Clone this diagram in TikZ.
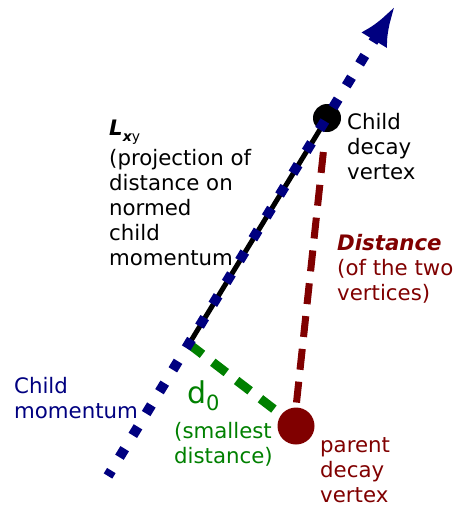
\documentclass[tikz,border=0pt]{standalone}
\usepackage{fontspec}
\setmainfont{DejaVu Sans}
\usetikzlibrary{arrows.meta,positioning}

\definecolor{momblue}{HTML}{000080}
\definecolor{distred}{HTML}{800000}
\definecolor{dzgreen}{HTML}{008000}

\begin{document}
\begin{tikzpicture}[
    x=1pt, y=-1pt,
    vertex/.style={circle, inner sep=0pt},
    label/.style={anchor=base west, align=left, inner sep=0pt, font=\fontsize{21.3}{25}\selectfont},
    momentum/.style={momblue, line width=10pt, dash pattern=on 10pt off 15.6pt, dash phase=3.6pt, -{Latex[length=40pt,width=30pt]}},
    projection/.style={black, line width=5pt},
    mindist/.style={dzgreen, line width=9pt, dash pattern=on 17pt off 13pt},
    vtxdist/.style={distred, line width=7pt, dash pattern=on 21pt off 12pt}
]
\useasboundingbox (0,0) rectangle (453,509);

% vertices and the foot of the perpendicular
\node[vertex, fill=black, minimum size=28pt] (child) at (327,118) {};
\node[vertex, fill=distred, minimum size=37pt] (parent) at (296,426) {};
\coordinate (foot) at (189,344);
\coordinate (mstart) at (108,476);
\coordinate (mtip) at (395,6);

% connectors
\draw[vtxdist, shorten <=20pt] (child) -- (parent.north);
\draw[mindist] (foot) -- (parent);
\draw[projection] (foot) -- (child.center);
\draw[momentum] (mstart) -- (mtip);

% texts (base = baseline of the last line)
\node[label] (lxy) at (109,135) {{\bfseries\itshape L}\raisebox{-0.55ex}{\fontsize{14}{14}\selectfont{\bfseries\itshape x}y}};
\node[label] (lxytxt) at (109,265) {(projection of\\distance on\\normed\\child\\momentum};
\node[label] (childtxt) at (347,179) {Child\\decay\\vertex};
\node[label, text=distred] (disttxt) at (337,300) {{\bfseries\itshape Distance}\\(of the two\\vertices)};
\node[label, text=momblue] (momtxt) at (14,418) {Child\\momentum};
\node[label, text=dzgreen, font=\fontsize{30}{30}\selectfont] (dzero) at (187,403) {d\raisebox{-0.45ex}{\fontsize{21}{21}\selectfont 0}};
\node[label, text=dzgreen] (dzerotxt) at (174,463) {(smallest\\distance)};
\node[label, text=distred] (parenttxt) at (320,502) {parent\\decay\\vertex};
\end{tikzpicture}
\end{document}
